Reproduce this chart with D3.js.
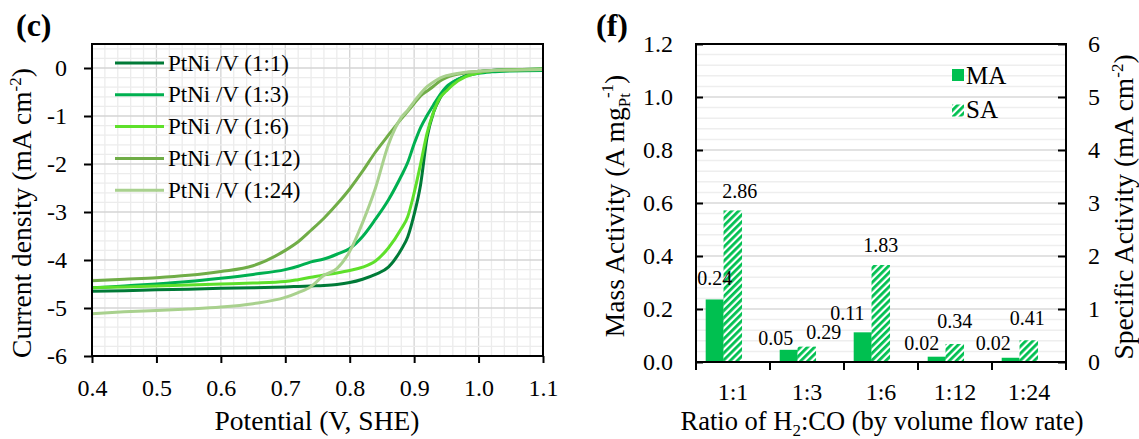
<!DOCTYPE html>
<html>
<head>
<meta charset="utf-8">
<script src="https://cdn.jsdelivr.net/npm/d3@7"></script>
<style>
  html, body { margin: 0; padding: 0; background: #fff; }
</style>
</head>
<body>
<svg id="chart" width="1139" height="439"></svg>
<script>
// ---------------- DATA ----------------
// Panel (c): LSV curves
const potential = [0.40,0.45,0.50,0.55,0.60,0.65,0.70,0.72,0.74,0.76,0.78,0.80,0.82,0.84,0.86,0.88,0.89,0.90,0.91,0.92,0.93,0.94,0.95,0.96,0.98,1.00,1.02,1.05,1.10];
const seriesNames = ["PtNi /V (1:1)", "PtNi /V (1:3)", "PtNi /V (1:6)", "PtNi /V (1:12)", "PtNi /V (1:24)"];
const j_1_1  = [-4.65,-4.64,-4.62,-4.61,-4.59,-4.58,-4.56,-4.55,-4.54,-4.53,-4.51,-4.47,-4.40,-4.30,-4.15,-3.78,-3.52,-3.05,-2.43,-1.45,-0.93,-0.63,-0.45,-0.31,-0.16,-0.08,-0.05,-0.035,-0.02];
const j_1_3  = [-4.58,-4.54,-4.50,-4.45,-4.38,-4.30,-4.20,-4.13,-4.04,-3.98,-3.88,-3.76,-3.51,-3.15,-2.75,-2.25,-1.97,-1.58,-1.24,-0.99,-0.77,-0.56,-0.39,-0.29,-0.17,-0.11,-0.08,-0.06,-0.05];
const j_1_6  = [-4.58,-4.56,-4.54,-4.52,-4.50,-4.48,-4.45,-4.41,-4.36,-4.31,-4.27,-4.22,-4.15,-4.02,-3.75,-3.35,-3.10,-2.60,-2.00,-1.36,-0.92,-0.62,-0.48,-0.35,-0.18,-0.10,-0.06,-0.04,-0.02];
const j_1_12 = [-4.43,-4.40,-4.37,-4.32,-4.24,-4.12,-3.80,-3.62,-3.38,-3.13,-2.84,-2.52,-2.15,-1.75,-1.40,-1.06,-0.90,-0.74,-0.58,-0.48,-0.38,-0.27,-0.20,-0.15,-0.10,-0.07,-0.05,-0.04,-0.03];
const j_1_24 = [-5.12,-5.08,-5.05,-5.02,-4.98,-4.91,-4.78,-4.68,-4.55,-4.32,-4.18,-3.82,-3.22,-2.50,-1.60,-1.03,-0.88,-0.70,-0.53,-0.39,-0.29,-0.21,-0.16,-0.13,-0.09,-0.07,-0.05,-0.04,-0.03];
const xTicksC = [0.4,0.5,0.6,0.7,0.8,0.9,1.0,1.1];
const yTicksC = [0,-1,-2,-3,-4,-5,-6];

// Panel (f): activities
const ratios = ["1:1","1:3","1:6","1:12","1:24"];
const massActivity = [0.236, 0.046, 0.112, 0.020, 0.016];   // A mg_Pt^-1
const specificActivity = [2.86, 0.29, 1.83, 0.34, 0.41];    // mA cm^-2
const yTicksMA = [0.0,0.2,0.4,0.6,0.8,1.0,1.2];
const yTicksSA = [0,1,2,3,4,5,6];

// ---------------- LAYOUT / STYLE ----------------
const FONT = "Liberation Serif";
const lineColors = ["#007a37", "#00b050", "#5ee02a", "#70ad47", "#a9d18e"];
const barGreen = "#00c050";
const FONT_TICK = 24, FONT_TITLE = 27.5, FONT_LEG = 23, FONT_VAL = 20;
// manual value-label offsets (px) relative to bar centre/top, as in the figure
const maLabelDx = [0, -13, -15.5, -15, -17.5], maLabelDy = [-14, -5, -12.5, -6.5, -8];
const saLabelDx = [7, 17, 0, 0, -1.5],        saLabelDy = [-12.5, -7.5, -13.5, -16, -15.5];

const svg = d3.select("#chart").attr("font-family", FONT);

// ======== Panel (c) ========
const cL = 92, cR = 543, cT = 44, cB = 356;
const x = d3.scaleLinear().domain([0.4, 1.1]).range([cL, cR]);
const y = d3.scaleLinear().domain([-6, 0.5]).range([cB, cT]);

const gC = svg.append("g");
// grid
const vMinor = d3.range(0, 36).map(i => 0.4 + i * 0.02);
const hMinor = d3.range(0, 33).map(i => -6 + i * 0.2);
gC.append("g").selectAll("line").data(vMinor).join("line")
  .attr("x1", d => x(d)).attr("x2", d => x(d)).attr("y1", cT).attr("y2", cB)
  .attr("stroke", d => Math.abs(Math.round(d * 10) - d * 10) < 1e-6 ? "#d4d4d4" : "#ececec")
  .attr("stroke-width", 1.3);
gC.append("g").selectAll("line").data(hMinor).join("line")
  .attr("y1", d => y(d)).attr("y2", d => y(d)).attr("x1", cL).attr("x2", cR)
  .attr("stroke", d => Math.abs(Math.round(d) - d) < 1e-6 ? "#d4d4d4" : "#ececec")
  .attr("stroke-width", 1.3);

// curves
const allJ = [j_1_1, j_1_3, j_1_6, j_1_12, j_1_24];
const line = d3.line().x(d => x(d[0])).y(d => y(d[1])).curve(d3.curveMonotoneX);
allJ.forEach((js, k) => {
  gC.append("path")
    .datum(potential.map((v, i) => [v, js[i]]))
    .attr("d", line).attr("fill", "none")
    .attr("stroke", lineColors[k]).attr("stroke-width", 3)
    .attr("stroke-linejoin", "round");
});

// frame
gC.append("rect").attr("x", cL).attr("y", cT).attr("width", cR - cL).attr("height", cB - cT)
  .attr("fill", "none").attr("stroke", "#000").attr("stroke-width", 2);

// axes
const axB = gC.append("g").attr("transform", `translate(0,${cB})`)
  .call(d3.axisBottom(x).tickValues(xTicksC).tickFormat(d3.format(".1f")).tickSize(7).tickPadding(16));
const axL = gC.append("g").attr("transform", `translate(${cL},0)`)
  .call(d3.axisLeft(y).tickValues(yTicksC).tickFormat(d => String(d)).tickSize(8).tickPadding(17));
[axB, axL].forEach(a => {
  a.select(".domain").remove();
  a.selectAll(".tick line").attr("stroke", "#000").attr("stroke-width", 2);
  a.selectAll(".tick text").attr("font-size", FONT_TICK).attr("fill", "#000");
});

// legend
seriesNames.forEach((name, k) => {
  const ly = 63 + k * 31.8;
  gC.append("line").attr("x1", 115).attr("x2", 164).attr("y1", ly).attr("y2", ly)
    .attr("stroke", lineColors[k]).attr("stroke-width", 3);
  gC.append("text").attr("x", 168).attr("y", ly).attr("dy", "0.33em")
    .attr("font-size", FONT_LEG).text(name);
});

// titles
gC.append("text").attr("x", 16).attr("y", 36).attr("font-size", 32).attr("font-weight", "bold").text("(c)");
gC.append("text").attr("x", 317).attr("y", 430).attr("text-anchor", "middle")
  .attr("font-size", FONT_TITLE).text("Potential (V, SHE)");
const yt = gC.append("text").attr("transform", "translate(31,213) rotate(-90)")
  .attr("text-anchor", "middle").attr("font-size", FONT_TITLE);
yt.append("tspan").text("Current density (mA cm");
yt.append("tspan").attr("dy", -10).attr("font-size", 17).text("-2");
yt.append("tspan").attr("dy", 10).text(")");

// ======== Panel (f) ========
const fL = 696, fR = 1066, fT = 44, fB = 362;
const xb = d3.scaleBand().domain(ratios).range([fL, fR]).padding(0);
const yMA = d3.scaleLinear().domain([0, 1.2]).range([fB, fT]);
const ySA = d3.scaleLinear().domain([0, 6]).range([fB, fT]);
const bw = xb.bandwidth();

const gF = svg.append("g");
const defs = svg.append("defs");
const pat = defs.append("pattern").attr("id", "hatch").attr("patternUnits", "userSpaceOnUse")
  .attr("width", 5).attr("height", 5).attr("patternTransform", "rotate(45)");
pat.append("rect").attr("width", 5).attr("height", 5).attr("fill", "#fff");
pat.append("rect").attr("width", 2.8).attr("height", 5).attr("fill", barGreen);

// grid
const hGridF = d3.range(0, 30).map(i => i * 0.04);
gF.append("g").selectAll("line").data(hGridF).join("line")
  .attr("x1", fL).attr("x2", fR).attr("y1", d => yMA(d)).attr("y2", d => yMA(d))
  .attr("stroke", d => Math.abs(Math.round(d * 5) - d * 5) < 1e-6 ? "#d9d9d9" : "#eeeeee")
  .attr("stroke-width", 1.5);

// bars
const maX = r => xb(r) + bw * 0.131, saX = r => xb(r) + bw * 0.372;
const maW = bw * 0.245, saW = bw * 0.25;
gF.append("g").selectAll("rect").data(ratios).join("rect")
  .attr("x", r => maX(r)).attr("width", maW)
  .attr("y", (r, i) => yMA(massActivity[i])).attr("height", (r, i) => fB - yMA(massActivity[i]))
  .attr("fill", barGreen);
gF.append("g").selectAll("rect").data(ratios).join("rect")
  .attr("x", r => saX(r)).attr("width", saW)
  .attr("y", (r, i) => ySA(specificActivity[i])).attr("height", (r, i) => fB - ySA(specificActivity[i]))
  .attr("fill", "url(#hatch)");

// value labels
const f2 = d3.format(".2f");
ratios.forEach((r, i) => {
  gF.append("text").attr("x", maX(r) + maW / 2 + maLabelDx[i]).attr("y", yMA(massActivity[i]) + maLabelDy[i])
    .attr("text-anchor", "middle").attr("font-size", FONT_VAL).text(f2(massActivity[i]));
  gF.append("text").attr("x", saX(r) + saW / 2 + saLabelDx[i]).attr("y", ySA(specificActivity[i]) + saLabelDy[i])
    .attr("text-anchor", "middle").attr("font-size", FONT_VAL).text(f2(specificActivity[i]));
});

// frame
gF.append("rect").attr("x", fL).attr("y", fT).attr("width", fR - fL).attr("height", fB - fT)
  .attr("fill", "none").attr("stroke", "#000").attr("stroke-width", 2);

// axes
const axFL = gF.append("g").attr("transform", `translate(${fL},0)`)
  .call(d3.axisLeft(yMA).tickValues(yTicksMA).tickFormat(d3.format(".1f")).tickSizeInner(-7).tickSizeOuter(0).tickPadding(23));
const axFR = gF.append("g").attr("transform", `translate(${fR},0)`)
  .call(d3.axisRight(ySA).tickValues(yTicksSA).tickFormat(d3.format("d")).tickSizeInner(-8).tickSizeOuter(0).tickPadding(22));
[axFL, axFR].forEach(a => {
  a.select(".domain").remove();
  a.selectAll(".tick line").attr("stroke", "#000").attr("stroke-width", 2);
  a.selectAll(".tick text").attr("font-size", FONT_TICK).attr("fill", "#000");
});
// category boundary ticks
const bounds = ratios.map(r => xb(r)).concat([fR]);
gF.append("g").selectAll("line").data(bounds).join("line")
  .attr("x1", d => d).attr("x2", d => d).attr("y1", fB).attr("y2", fB + 8)
  .attr("stroke", "#000").attr("stroke-width", 2);
gF.append("g").selectAll("text").data(ratios).join("text")
  .attr("x", r => xb(r) + bw / 2).attr("y", 400).attr("text-anchor", "middle")
  .attr("font-size", FONT_TICK).text(r => r);

// legend
gF.append("rect").attr("x", 952).attr("y", 69).attr("width", 12).attr("height", 12).attr("fill", barGreen);
gF.append("text").attr("x", 966).attr("y", 83.5).attr("font-size", 25).text("MA");
gF.append("rect").attr("x", 952).attr("y", 104.5).attr("width", 12).attr("height", 12).attr("fill", "url(#hatch)");
gF.append("text").attr("x", 966).attr("y", 117.5).attr("font-size", 25).text("SA");

// titles
gF.append("text").attr("x", 596).attr("y", 36).attr("font-size", 32).attr("font-weight", "bold").text("(f)");
const xt = gF.append("text").attr("x", 882).attr("y", 430).attr("text-anchor", "middle").attr("font-size", 26.5);
xt.append("tspan").text("Ratio of H");
xt.append("tspan").attr("dy", 6).attr("font-size", 17).text("2");
xt.append("tspan").attr("dy", -6).text(":CO (by volume flow rate)");

const ml = gF.append("text").attr("transform", "translate(624,206) rotate(-90)")
  .attr("text-anchor", "middle").attr("font-size", FONT_TITLE);
ml.append("tspan").text("Mass Activity (A mg");
ml.append("tspan").attr("dy", 6).attr("font-size", 17).text("Pt");
ml.append("tspan").attr("dy", -17).attr("dx", -5).attr("font-size", 17).text("-1");
ml.append("tspan").attr("dy", 11).text(")");

const sl = gF.append("text").attr("transform", "translate(1133,207) rotate(-90)")
  .attr("text-anchor", "middle").attr("font-size", FONT_TITLE);
sl.append("tspan").text("Specific Activity (mA cm");
sl.append("tspan").attr("dy", -10).attr("font-size", 17).text("-2");
sl.append("tspan").attr("dy", 10).text(")");

// make sure every text uses the serif face (axis groups set sans-serif)
svg.selectAll("g").filter(function () { return this.getAttribute("font-family"); })
  .attr("font-family", FONT);
svg.selectAll("text").style("font-family", FONT);
</script>
</body>
</html>
